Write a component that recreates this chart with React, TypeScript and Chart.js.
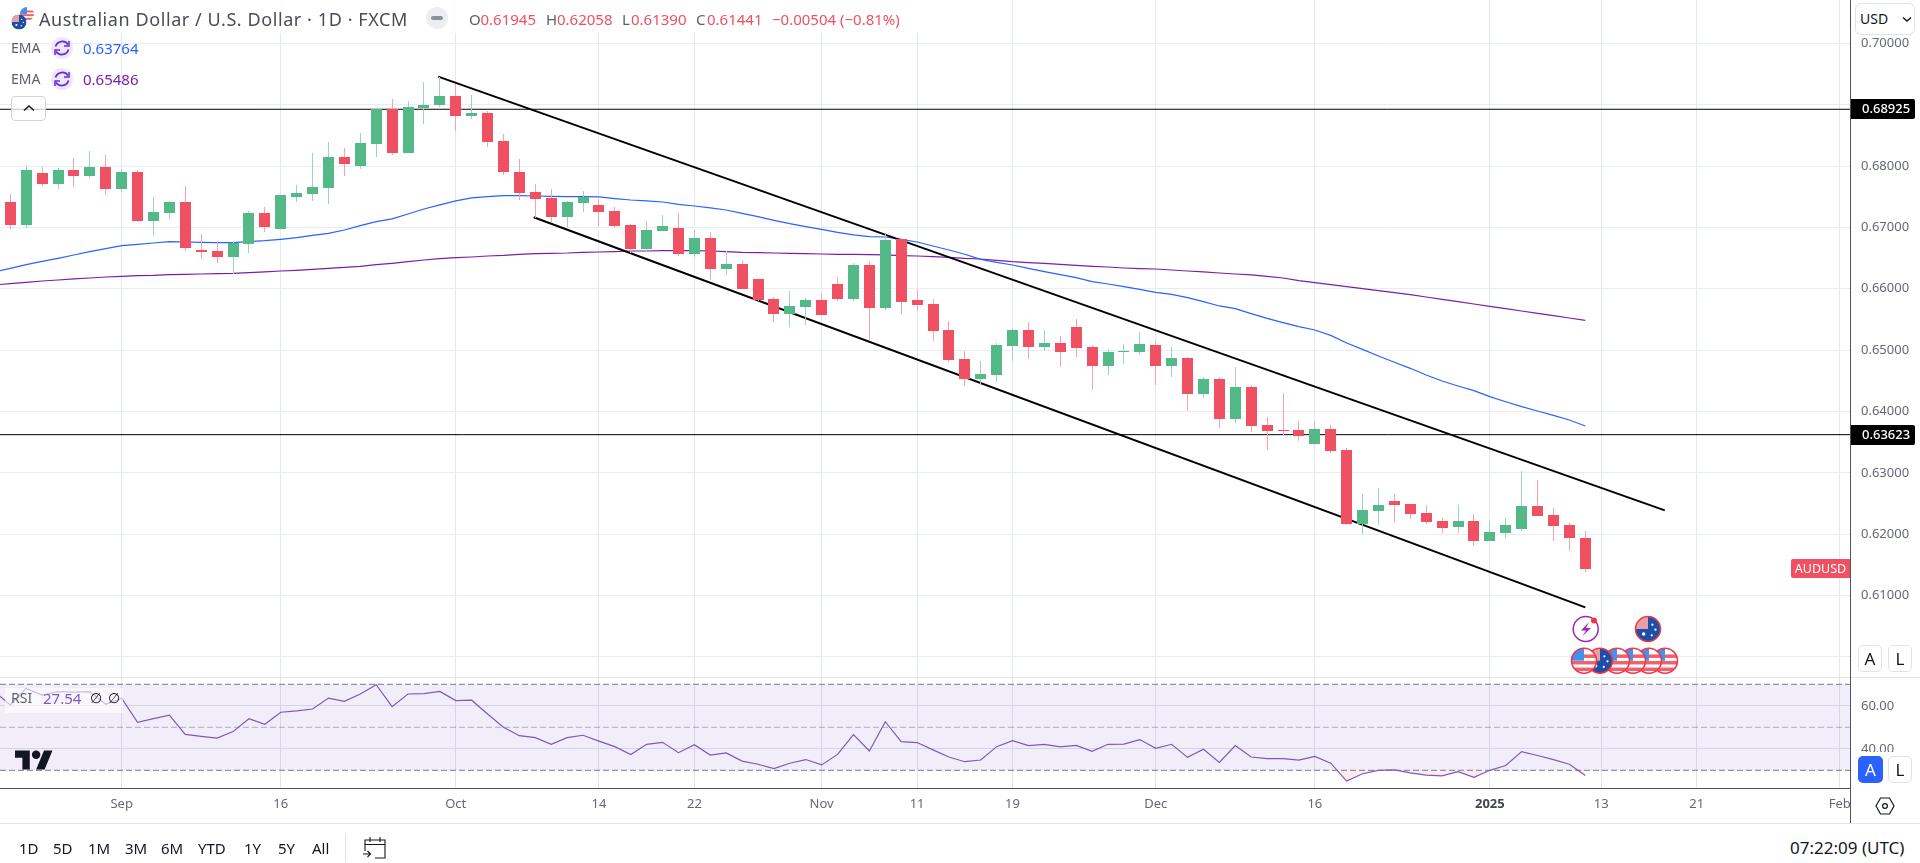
import React, { useEffect, useRef } from "react";
import { Chart, registerables } from "chart.js";

Chart.register(...registerables);

const opens = [.67414,.67040,.67887,.67708,.67936,.67838,.67985,.67626,.67903,.67105,.67235,.67414,.66632,.66616,.66519,.66730,.67235,.66975,.67496,.67545,.67642,.68148,.68001,.68360,.68930,.68213,.68946,.68995,.69142,.68816,.68865,.68408,.67903,.67577,.67480,.67170,.67398,.67366,.67268,.67040,.66648,.66942,.66991,.66567,.66828,.66322,.66404,.66160,.65833,.65589,.65703,.65817,.66078,.65833,.66388,.65687,.66811,.65817,.65752,.65328,.64856,.64530,.64595,.65068,.65328,.65052,.65117,.65377,.65052,.64742,.64970,.64970,.65084,.64742,.64872,.64286,.64530,.63878,.64400,.63780,.63699,.63699,.63471,.63715,.63373,.62167,.62379,.62542,.62493,.62346,.62216,.62118,.62216,.61890,.62020,.62085,.62460,.62314,.62151,.61945];
const closes = [.67040,.67936,.67708,.67936,.67838,.67985,.67626,.67903,.67105,.67251,.67414,.66665,.66599,.66519,.66747,.67235,.67007,.67529,.67561,.67659,.68148,.68034,.68376,.68930,.68213,.68962,.68995,.69142,.68816,.68865,.68392,.67903,.67561,.67463,.67170,.67414,.67496,.67251,.67023,.66648,.66958,.67023,.66567,.66828,.66322,.66404,.65997,.65817,.65589,.65720,.65817,.65573,.65833,.66388,.65687,.66795,.65785,.65736,.65312,.64840,.64530,.64611,.65084,.65328,.65052,.65117,.64970,.65035,.64742,.64970,.64986,.65100,.64742,.64872,.64286,.64530,.63878,.64400,.63764,.63683,.63683,.63602,.63715,.63357,.62167,.62395,.62477,.62477,.62330,.62200,.62102,.62216,.61890,.62036,.62151,.62460,.62298,.62135,.61939,.61441];
const highs = [.67545,.68001,.67985,.67968,.68131,.68245,.68180,.67952,.67936,.67496,.67431,.67675,.66893,.66779,.66779,.67268,.67333,.67529,.67691,.68213,.68392,.68294,.68539,.68930,.69093,.69060,.69370,.69451,.69337,.69158,.68897,.68522,.68115,.67708,.67626,.67431,.67594,.67463,.67333,.67056,.67105,.67203,.67235,.66958,.66926,.66616,.66469,.66160,.65866,.65964,.65850,.65915,.66192,.66420,.66453,.66893,.66811,.65997,.65833,.65475,.64986,.64823,.65117,.65345,.65459,.65328,.65231,.65508,.65084,.65019,.65100,.65296,.65149,.65052,.64889,.64563,.64563,.64725,.64432,.63911,.64302,.63845,.63829,.63780,.63406,.62656,.62754,.62656,.62493,.62477,.62265,.62477,.62330,.62216,.62265,.63031,.62884,.62428,.62184,.62058];
const lows = [.66975,.66991,.67675,.67626,.67659,.67805,.67529,.67577,.67089,.66861,.67138,.66616,.66485,.66420,.66241,.66583,.66926,.66975,.67414,.67431,.67382,.67838,.67952,.68148,.68180,.68207,.68685,.68962,.68571,.68767,.68311,.67854,.67447,.67154,.67089,.67007,.67251,.67023,.66991,.66583,.66599,.66942,.66534,.66519,.66143,.66225,.65997,.65800,.65459,.65377,.65410,.65557,.65800,.65800,.65149,.65654,.65589,.65638,.65149,.64807,.64416,.64432,.64481,.64823,.64856,.64986,.64725,.64889,.64351,.64595,.64775,.64921,.64432,.64563,.64009,.64221,.63732,.63813,.63667,.63373,.63618,.63520,.63455,.63324,.62151,.62004,.62151,.62200,.62249,.62167,.62020,.62020,.61809,.61890,.61939,.62053,.62298,.61890,.61727,.61390];
// first entry belongs to the bar just left of the visible range
const emaFast = [.66273,.66333,.66393,.66447,.66496,.66550,.66605,.66654,.66703,.66724,.66746,.66768,.66762,.66757,.66751,.66751,.66768,.66784,.66806,.66833,.66871,.66904,.66958,.67029,.67094,.67138,.67219,.67300,.67366,.67431,.67480,.67501,.67518,.67518,.67512,.67507,.67501,.67501,.67496,.67469,.67447,.67431,.67414,.67376,.67349,.67317,.67284,.67230,.67175,.67116,.67061,.67012,.66969,.66920,.66877,.66849,.66844,.66806,.66762,.66697,.66632,.66562,.66480,.66431,.66388,.66333,.66279,.66230,.66181,.66116,.66078,.66035,.65991,.65942,.65910,.65855,.65790,.65720,.65676,.65595,.65519,.65448,.65383,.65328,.65241,.65117,.65013,.64905,.64802,.64704,.64595,.64498,.64416,.64340,.64242,.64160,.64079,.64009,.63938,.63862,.63764];
const emaSlow = [.66062,.66084,.66105,.66127,.66143,.66160,.66176,.66192,.66203,.66214,.66219,.66230,.66236,.66241,.66247,.66252,.66263,.66274,.66290,.66301,.66317,.66333,.66350,.66366,.66393,.66415,.66442,.66469,.66491,.66507,.66518,.66534,.66545,.66562,.66572,.66578,.66583,.66594,.66599,.66605,.66616,.66616,.66621,.66621,.66621,.66616,.66605,.66594,.66589,.66583,.66578,.66572,.66567,.66562,.66562,.66556,.66551,.66540,.66534,.66523,.66513,.66496,.66485,.66464,.66442,.66426,.66415,.66399,.66382,.66366,.66355,.66339,.66328,.66322,.66306,.66290,.66274,.66257,.66241,.66225,.66203,.66176,.66132,.66100,.66067,.66035,.66002,.65969,.65937,.65904,.65866,.65828,.65790,.65752,.65714,.65676,.65638,.65600,.65562,.65524,.65486];
const rsiValues = [66.6,60.4,68.1,65.0,66.6,66.4,66.6,60.7,63.5,52.3,54.0,55.7,46.7,45.8,45.0,48.0,54.0,51.4,57.0,57.6,58.5,63.6,62.1,65.5,69.8,59.6,65.5,65.7,66.7,62.4,62.6,56.2,50.0,46.1,45.2,42.1,45.2,46.3,43.6,41.0,37.3,42.1,43.0,38.2,41.9,37.1,38.1,34.3,32.8,30.8,33.3,35.0,32.5,37.4,46.6,39.0,52.6,43.3,42.9,39.5,36.2,34.0,34.8,41.0,43.8,41.5,42.1,40.9,41.6,38.8,42.1,42.2,44.3,40.2,42.1,36.0,39.8,33.7,41.5,36.2,35.4,35.4,34.7,36.5,33.3,25.0,28.4,30.0,30.2,28.8,27.8,27.4,29.4,26.7,30.0,32.2,38.7,36.9,35.0,32.8,27.54];

const timeTickBars = [7, 17, 28, 37, 43, 51, 57, 63, 72, 82, 93, 100, 106, 115];
const timeTickLabels = ["Sep", "16", "Oct", "14", "22", "Nov", "11", "19", "Dec", "16", "2025", "13", "21", "Feb"];
const priceTicks = [0.6, 0.61, 0.62, 0.63, 0.64, 0.65, 0.66, 0.67, 0.68, 0.69, 0.7];
const rsiTicks = [40, 60];
const levels = [0.68925, 0.63623];
const upperTrendBars = [26.9, 104];
const upperTrendPrices = [0.69457, 0.6239];
const lowerTrendBars = [32.9, 99];
const lowerTrendPrices = [0.67165, 0.60809];
const rangeButtons = ["1D", "5D", "1M", "3M", "6M", "YTD", "1Y", "5Y", "All"];
const rangeButtonX = [19, 53, 88, 125, 161, 198, 244, 278, 312];

const FONT = '"Noto Sans", sans-serif';
const UP = "#53b987";
const DOWN = "#ef5062";
const UP_WICK = "#a3cfcb";
const DOWN_WICK = "#f6a3ad";
const X_MIN = -0.647;
const X_MAX = 115.64;
const PANE_RIGHT = 1850;

const snapBars = {
  id: "snapBars",
  afterDatasetsUpdate(chart: any) {
    chart.data.datasets.forEach((ds: any, i: number) => {
      if (ds.type !== "bar") return;
      chart.getDatasetMeta(i).data.forEach((el: any) => {
        el.x = Math.floor(el.x) + 0.5;
        el.y = Math.round(el.y);
        el.base = Math.round(el.base);
        if (Math.abs(el.y - el.base) < 1) el.base = el.y + 1;
      });
    });
  },
};

const priceTags = {
  id: "priceTags",
  afterDraw(chart: any) {
    const { ctx, scales } = chart;
    const y = scales.y;
    ctx.save();
    ctx.font = `500 13px ${FONT}`;
    ctx.textBaseline = "middle";
    levels.forEach((v) => {
      const py = Math.round(y.getPixelForValue(v));
      ctx.fillStyle = "#000";
      ctx.beginPath();
      ctx.roundRect(1851, py - 10, 64, 20, [0, 2, 2, 0]);
      ctx.fill();
      ctx.fillStyle = "#fff";
      ctx.textAlign = "left";
      ctx.fillText(v.toFixed(5), 1862, py + 0.5);
    });
    const last = Math.round(y.getPixelForValue(closes[closes.length - 1]));
    ctx.fillStyle = DOWN;
    ctx.beginPath();
    ctx.roundRect(1791, last - 10, 59, 19, [2, 0, 0, 2]);
    ctx.fill();
    ctx.fillStyle = "#fff";
    ctx.textAlign = "center";
    ctx.font = `12.5px ${FONT}`;
    ctx.fillText("AUDUSD", 1820.5, last);
    ctx.restore();
  },
};

const setTimeTicks = (axis: any) => {
  axis.ticks = timeTickBars.map((value) => ({ value }));
};
const labelOfTick = (value: any) => {
  const at = timeTickBars.indexOf(value);
  return at >= 0 ? timeTickLabels[at] : "";
};
const noMargins = (s: any) => {
  s.paddingTop = 0;
  s.paddingBottom = 0;
  s.paddingLeft = 0;
  s.paddingRight = 0;
};

function span(text: string, left: number, centerY: number, size: number, color: string, extra: any = {}) {
  return (
    <span
      style={{
        position: "absolute",
        left,
        top: centerY - size,
        height: size * 2,
        lineHeight: `${size * 2}px`,
        fontSize: size,
        color,
        whiteSpace: "nowrap",
        fontFamily: FONT,
        ...extra,
      }}
    >
      {text}
    </span>
  );
}

function UsFlag({ cx, cy, r, id, ring = true }: any) {
  return (
    <g>
      <clipPath id={id}>
        <circle cx={cx} cy={cy} r={r} />
      </clipPath>
      <g clipPath={`url(#${id})`}>
        <rect x={cx - r} y={cy - r} width={2 * r} height={2 * r} fill="#fff" />
        <rect x={cx - r} y={cy - r * 0.5} width={2 * r} height={r * 0.28} fill="#f0616d" />
        <rect x={cx - r} y={cy + r * 0.02} width={2 * r} height={r * 0.28} fill="#f0616d" />
        <rect x={cx - r} y={cy + r * 0.55} width={2 * r} height={r * 0.28} fill="#f0616d" />
        <rect x={cx - r} y={cy - r} width={r * 1.0} height={r} fill="#3f93ee" />
      </g>
      {ring && <circle cx={cx} cy={cy} r={r} fill="none" stroke="#f23645" strokeWidth={1.5} />}
    </g>
  );
}

function AuFlag({ cx, cy, r, id, ring = true }: any) {
  return (
    <g>
      <clipPath id={id}>
        <circle cx={cx} cy={cy} r={r} />
      </clipPath>
      <g clipPath={`url(#${id})`}>
        <rect x={cx - r} y={cy - r} width={2 * r} height={2 * r} fill="#1d4fa8" />
        <rect x={cx - r} y={cy - r} width={r} height={r} fill="#e7a0a8" />
        <circle cx={cx + r * 0.35} cy={cy - r * 0.35} r={r * 0.09} fill="#fff" />
        <circle cx={cx + r * 0.6} cy={cy + r * 0.05} r={r * 0.09} fill="#fff" />
        <circle cx={cx + r * 0.3} cy={cy + r * 0.5} r={r * 0.09} fill="#fff" />
        <circle cx={cx - r * 0.35} cy={cy + r * 0.4} r={r * 0.14} fill="#fff" />
      </g>
      {ring && <circle cx={cx} cy={cy} r={r} fill="none" stroke="#f23645" strokeWidth={1.5} />}
    </g>
  );
}

function Button({ left, top, w, h, text, active = false }: any) {
  return (
    <div
      style={{
        position: "absolute",
        left,
        top,
        width: w,
        height: h,
        boxSizing: "border-box",
        border: active ? "none" : "1px solid #e0e3eb",
        borderRadius: 5,
        background: active ? "#2962ff" : "#fff",
        color: active ? "#fff" : "#131722",
        textAlign: "center",
        lineHeight: `${active ? h : h - 2}px`,
        fontSize: 17,
        fontFamily: FONT,
      }}
    >
      {text}
    </div>
  );
}

function EmaRow({ top, color, value }: any) {
  return (
    <>
      {span("EMA", 11, top, 14, "#5d606b")}
      <svg style={{ position: "absolute", left: 51, top: top - 11 }} width={22} height={22}>
        <circle cx={11} cy={11} r={11} fill="#ede7f6" />
        <path d="M4.5 9.5 A7 7 0 0 1 17 7.5 M17.5 12.5 A7 7 0 0 1 5 14.5" fill="none" stroke="#6a2ce0" strokeWidth={1.8} />
        <path d="M18 4 V9 H13 M4 18 V13 H9" fill="none" stroke="#6a2ce0" strokeWidth={1.5} />
      </svg>
      {span(value, 83, top, 15, color)}
    </>
  );
}

export default function App() {
  const mainRef = useRef<HTMLCanvasElement>(null);
  const rsiRef = useRef<HTMLCanvasElement>(null);

  useEffect(() => {
    const bars = opens.map((_, i) => i);
    const candleColors = bars.map((i) => (closes[i] >= opens[i] ? UP : DOWN));
    const wickColors = bars.map((i) => (closes[i] >= opens[i] ? UP_WICK : DOWN_WICK));

    const lineBase = { type: "line", pointRadius: 0, borderWidth: 1, tension: 0, fill: false };

    const main = new Chart(mainRef.current as any, {
      type: "bar",
      plugins: [snapBars, priceTags],
      data: {
        datasets: [
          {
            type: "bar",
            order: 1,
            grouped: false,
            barThickness: 11,
            inflateAmount: 0,
            borderWidth: 0,
            backgroundColor: candleColors,
            data: bars.map((i) => ({ x: i, y: [opens[i], closes[i]] })),
          },
          {
            type: "bar",
            order: 2,
            grouped: false,
            barThickness: 1,
            inflateAmount: 0,
            borderWidth: 0,
            backgroundColor: wickColors,
            data: bars.map((i) => ({ x: i, y: [lows[i], highs[i]] })),
          },
          ...levels.map((v) => ({
            ...lineBase,
            order: 3,
            borderColor: "#000",
            borderWidth: 1,
            data: [
              { x: X_MIN, y: v },
              { x: X_MAX, y: v },
            ],
          })),
          {
            ...lineBase,
            order: 3,
            borderColor: "#000",
            borderWidth: 2,
            data: upperTrendBars.map((x, k) => ({ x, y: upperTrendPrices[k] })),
          },
          {
            ...lineBase,
            order: 3,
            borderColor: "#000",
            borderWidth: 2,
            data: lowerTrendBars.map((x, k) => ({ x, y: lowerTrendPrices[k] })),
          },
          {
            ...lineBase,
            order: 4,
            borderWidth: 1.2,
            borderColor: "#2962ff",
            data: emaFast.map((y, k) => ({ x: k - 1, y })),
          },
          {
            ...lineBase,
            order: 5,
            borderWidth: 1.2,
            borderColor: "#7b1fa2",
            data: emaSlow.map((y, k) => ({ x: k - 1, y })),
          },
        ],
      } as any,
      options: {
        responsive: false,
        animation: false,
        events: [],
        layout: { padding: 0 },
        plugins: { legend: { display: false }, tooltip: { enabled: false } },
        scales: {
          x: {
            type: "linear",
            min: X_MIN,
            max: X_MAX,
            offset: false,
            afterBuildTicks: setTimeTicks,
            afterFit: (s: any) => {
              s.height = 0;
              noMargins(s);
            },
            ticks: { display: false, autoSkip: false },
            grid: { color: "#e1eaf1", offset: false, drawTicks: false },
            border: { display: false },
          },
          y: {
            position: "right",
            min: 0.596741,
            max: 0.707056,
            afterBuildTicks: (axis: any) => {
              axis.ticks = priceTicks.map((value) => ({ value }));
            },
            afterFit: (s: any) => {
              s.width = 70;
              noMargins(s);
            },
            ticks: {
              callback: (v: any) => Number(v).toFixed(5),
              padding: 11,
              color: "#666974",
              font: { family: FONT, size: 13 },
              autoSkip: false,
            },
            grid: { color: "#e6edf3", drawTicks: false },
            border: { display: false },
          },
        },
      } as any,
    });

    const rsi = new Chart(rsiRef.current as any, {
      type: "line",
      data: {
        datasets: [
          {
            ...lineBase,
            order: 3,
            borderColor: "#787b86",
            borderDash: [6, 3],
            backgroundColor: "rgba(126,87,194,0.1)",
            fill: { target: { value: 30 } },
            data: [
              { x: X_MIN, y: 70 },
              { x: X_MAX, y: 70 },
            ],
          },
          {
            ...lineBase,
            order: 3,
            borderColor: "rgba(120,123,134,0.55)",
            borderDash: [6, 3],
            data: [
              { x: X_MIN, y: 50 },
              { x: X_MAX, y: 50 },
            ],
          },
          {
            ...lineBase,
            order: 3,
            borderColor: "#787b86",
            borderDash: [6, 3],
            data: [
              { x: X_MIN, y: 30 },
              { x: X_MAX, y: 30 },
            ],
          },
          {
            ...lineBase,
            order: 1,
            borderColor: "#7e57c2",
            borderWidth: 1.2,
            fill: { target: { value: 30 }, above: "rgba(0,0,0,0)", below: "rgba(242,54,69,0.1)" },
            data: rsiValues.map((y, k) => ({ x: k - 1, y })),
          },
        ],
      } as any,
      options: {
        responsive: false,
        animation: false,
        events: [],
        layout: { padding: 0 },
        plugins: { legend: { display: false }, tooltip: { enabled: false } },
        scales: {
          x: {
            type: "linear",
            min: X_MIN,
            max: X_MAX,
            afterBuildTicks: setTimeTicks,
            afterFit: (s: any) => {
              s.height = 35;
              noMargins(s);
            },
            ticks: {
              autoSkip: false,
              maxRotation: 0,
              padding: 8,
              callback: labelOfTick,
              color: (c: any) => (c.tick && c.tick.value === 93 ? "#434651" : "#666974"),
              font: (c: any) => ({
                family: FONT,
                size: 13,
                weight: c.tick && c.tick.value === 93 ? "700" : "400",
              }),
            },
            grid: { color: "#dde6ef", drawTicks: false },
            border: { display: false },
          },
          y: {
            position: "right",
            min: 21.77,
            max: 72.93,
            afterBuildTicks: (axis: any) => {
              axis.ticks = rsiTicks.map((value) => ({ value }));
            },
            afterFit: (s: any) => {
              s.width = 70;
              noMargins(s);
            },
            ticks: {
              callback: (v: any) => Number(v).toFixed(2),
              padding: 11,
              color: "#666974",
              font: { family: FONT, size: 13 },
              autoSkip: false,
            },
            grid: { color: "#dfe3ee", drawTicks: false },
            border: { display: false },
          },
        },
      } as any,
    });

    return () => {
      main.destroy();
      rsi.destroy();
    };
  }, []);

  const usX = [1584, 1617, 1633, 1649, 1665];

  return (
    <div style={{ position: "fixed", left: 0, top: 0, width: 1920, height: 863, background: "#fff", overflow: "hidden" }}>
      <canvas ref={mainRef} width={1920} height={677} style={{ position: "absolute", left: 0, top: 0, display: "block" }} />
      <canvas ref={rsiRef} width={1920} height={145} style={{ position: "absolute", left: 0, top: 678, display: "block" }} />

      {/* pane borders */}
      <div style={{ position: "absolute", left: 0, top: 677, width: 1920, height: 1, background: "#e0e3eb" }} />
      <div style={{ position: "absolute", left: 0, top: 788, width: PANE_RIGHT, height: 1, background: "#50535e" }} />
      <div style={{ position: "absolute", left: 0, top: 823, width: 1920, height: 1, background: "#e0e3eb" }} />
      <div style={{ position: "absolute", left: PANE_RIGHT, top: 0, width: 1, height: 823, background: "#50535e" }} />

      {/* header */}
      <div style={{ position: "absolute", left: 0, top: 0, width: 1000, height: 33, background: "rgba(255,255,255,0.9)" }} />
      <svg style={{ position: "absolute", left: 10, top: 5 }} width={26} height={26}>
        <UsFlag cx={17} cy={9} r={7} id="logoUs" ring={false} />
        <AuFlag cx={9} cy={17} r={7.5} id="logoAu" ring={false} />
      </svg>
      {span("Australian Dollar / U.S. Dollar · 1D · FXCM", 39, 19, 18, "#4a4d57", { letterSpacing: "0.58px" })}
      <svg style={{ position: "absolute", left: 426, top: 7 }} width={22} height={22}>
        <circle cx={11} cy={11} r={11} fill="#eceef2" />
        <rect x={5} y={9} width={12} height={4} rx={2} fill="#8d909b" />
      </svg>
      {span("O", 469, 19, 15, "#5d606b")}
      {span("0.61945", 480.5, 19, 15, DOWN)}
      {span("H", 546, 19, 15, "#5d606b")}
      {span("0.62058", 557, 19, 15, DOWN)}
      {span("L", 622, 19, 15, "#5d606b")}
      {span("0.61390", 631, 19, 15, DOWN)}
      {span("C", 696, 19, 15, "#5d606b")}
      {span("0.61441", 707, 19, 15, DOWN)}
      {span("−0.00504 (−0.81%)", 772, 19, 15, DOWN)}
      <EmaRow top={48} color="#2962ff" value="0.63764" />
      <EmaRow top={78.5} color="#7b1fa2" value="0.65486" />
      <div
        style={{
          position: "absolute",
          left: 11,
          top: 96,
          width: 35,
          height: 25,
          boxSizing: "border-box",
          border: "1px solid #d1d4dc",
          borderRadius: 4,
          background: "rgba(255,255,255,0.75)",
        }}
      />
      <svg style={{ position: "absolute", left: 22, top: 104 }} width={14} height={8}>
        <path d="M2 6.5 L7 2 L12 6.5" fill="none" stroke="#131722" strokeWidth={1.5} />
      </svg>

      {/* right scale controls */}
      <div style={{ position: "absolute", left: 1852, top: 0, width: 68, height: 38, background: "#fff" }} />
      <div
        style={{
          position: "absolute",
          left: 1855,
          top: 3,
          width: 60,
          height: 32,
          boxSizing: "border-box",
          border: "1px solid #e0e3eb",
          borderRadius: 6,
          background: "#fff",
        }}
      />
      {span("USD", 1860, 19, 14, "#131722")}
      <svg style={{ position: "absolute", left: 1902, top: 16 }} width={10} height={7}>
        <path d="M1 1.5 L5 5 L9 1.5" fill="none" stroke="#131722" strokeWidth={1.5} />
      </svg>
      <div style={{ position: "absolute", left: 1852, top: 642, width: 68, height: 34, background: "#fff" }} />
      <Button left={1858} top={645} w={24} h={27} text="A" />
      <Button left={1888} top={645} w={24} h={27} text="L" />
      <div style={{ position: "absolute", left: 1852, top: 752, width: 68, height: 35, background: "#fff" }} />
      <Button left={1858} top={756} w={25} h={27} text="A" active />
      <Button left={1888} top={756} w={24} h={27} text="L" />
      <svg style={{ position: "absolute", left: 1875, top: 796 }} width={20} height={20}>
        <path d="M5.5 2 H14.5 L19 10 L14.5 18 H5.5 L1 10 Z" fill="none" stroke="#131722" strokeWidth={1.2} />
        <circle cx={10} cy={10} r={2.4} fill="none" stroke="#131722" strokeWidth={1.2} />
      </svg>

      {/* RSI legend */}
      <div style={{ position: "absolute", left: 5, top: 688, width: 118, height: 25, background: "rgba(255,255,255,0.6)" }} />
      {span("RSI", 11, 698, 14, "#5d606b")}
      {span("27.54", 43, 698, 15, "#7e57c2")}
      {span("∅", 90, 698, 14, "#131722")}
      {span("∅", 108, 698, 14, "#131722")}

      {/* TradingView mark */}
      <svg style={{ position: "absolute", left: 15, top: 746 }} width={38} height={30} viewBox="0 0 36 28">
        <path fillRule="evenodd" d="M14 22H7V11H0V4h14v18zM28 22h-8l7.5-18h8L28 22z" fill="#131722" />
        <circle cx={20} cy={8} r={4} fill="#131722" />
      </svg>

      {/* event markers */}
      <svg style={{ position: "absolute", left: 1560, top: 610 }} width={130} height={70} viewBox="1560 610 130 70">
        <circle cx={1585.7} cy={629} r={12.5} fill="#fff" stroke="#9c27b0" strokeWidth={1.5} />
        <path d="M1589 622 L1581 630.5 H1586 L1582.5 636 L1591 628 H1586 Z" fill="#9c27b0" />
        <circle cx={1594} cy={620.5} r={3} fill="#f23645" />
        <AuFlag cx={1648} cy={629} r={12.5} id="ev0" />
        <UsFlag cx={usX[4]} cy={660.7} r={12.5} id="ev5" />
        <UsFlag cx={usX[3]} cy={660.7} r={12.5} id="ev4" />
        <UsFlag cx={usX[2]} cy={660.7} r={12.5} id="ev3" />
        <UsFlag cx={usX[1]} cy={660.7} r={12.5} id="ev2" />
        <AuFlag cx={1600} cy={660.7} r={12.5} id="ev1" />
        <UsFlag cx={usX[0]} cy={660.7} r={12.5} id="ev6" />
      </svg>

      {/* bottom toolbar */}
      {rangeButtons.map((t, k) => (
        <React.Fragment key={t}>{span(t, rangeButtonX[k], 848, 15, "#131722")}</React.Fragment>
      ))}
      <div style={{ position: "absolute", left: 345, top: 834, width: 1, height: 28, background: "#e0e3eb" }} />
      <svg style={{ position: "absolute", left: 362, top: 835 }} width={26} height={25}>
        <path d="M3 16 V5 H23 V23 H13 M3 9.5 H23 M8 2 V7 M18 2 V7" fill="none" stroke="#131722" strokeWidth={1.1} />
        <path d="M1 19 H8 M5.5 16 L8.5 19 L5.5 22" fill="none" stroke="#131722" strokeWidth={1.1} />
      </svg>
      {span("07:22:09 (UTC)", 1790, 848, 17, "#131722")}
    </div>
  );
}
